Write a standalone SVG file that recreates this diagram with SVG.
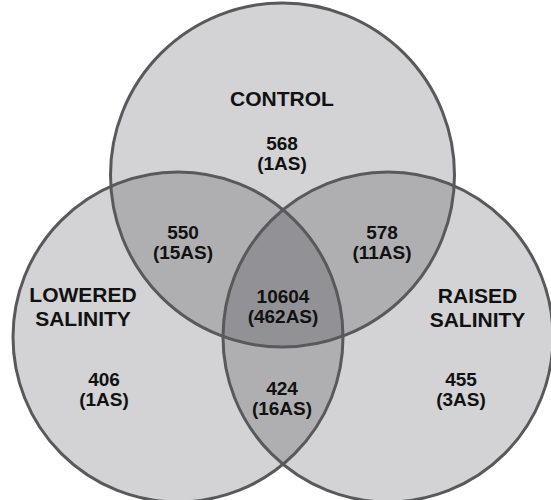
<svg xmlns="http://www.w3.org/2000/svg" width="551" height="500" viewBox="0 0 551 500">
<style>
.fill{fill:#0a0a14;fill-opacity:0.18;stroke:none}
.ring{fill:none;stroke:#58595b;stroke-width:3}
text{font-family:"Liberation Sans",Arial,sans-serif;font-weight:bold;fill:#111;text-anchor:middle}
.lab{font-size:21px}
.num{font-size:19px}
</style>
<rect width="551" height="500" fill="#ffffff"/>
<g id="fills">
<circle class="fill" cx="282.5" cy="175" r="172"/>
<circle class="fill" cx="178" cy="337" r="165"/>
<circle class="fill" cx="388" cy="337" r="165"/>
</g>
<g id="connectors"/>
<g id="control">
<circle class="ring" cx="282.5" cy="175" r="172"/>
</g>
<g id="lowered">
<circle class="ring" cx="178" cy="337" r="165"/>
</g>
<g id="raised">
<circle class="ring" cx="388" cy="337" r="165"/>
</g>
<g id="labels">
<text class="lab" x="282" y="106">CONTROL</text>
<text class="num" x="282" y="150">568</text>
<text class="num" x="282" y="170">(1AS)</text>
<text class="num" x="183" y="239">550</text>
<text class="num" x="183" y="259">(15AS)</text>
<text class="num" x="382" y="239">578</text>
<text class="num" x="382" y="259">(11AS)</text>
<text class="num" x="283" y="303">10604</text>
<text class="num" x="283" y="323">(462AS)</text>
<text class="lab" x="83" y="302">LOWERED</text>
<text class="lab" x="83" y="326">SALINITY</text>
<text class="lab" x="477.5" y="303">RAISED</text>
<text class="lab" x="477.5" y="327">SALINITY</text>
<text class="num" x="104" y="386">406</text>
<text class="num" x="104" y="406">(1AS)</text>
<text class="num" x="282" y="395">424</text>
<text class="num" x="282" y="415">(16AS)</text>
<text class="num" x="461" y="386">455</text>
<text class="num" x="461" y="406">(3AS)</text>
</g>
</svg>
